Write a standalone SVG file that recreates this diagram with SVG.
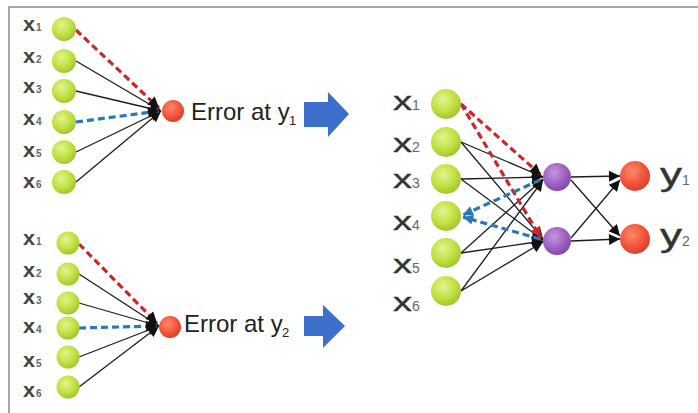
<svg xmlns="http://www.w3.org/2000/svg" width="698" height="413" viewBox="0 0 698 413">
  <defs>
    <radialGradient id="gGreen" cx="0.4" cy="0.35" r="0.7">
      <stop offset="0" stop-color="#e4f48c"/>
      <stop offset="0.6" stop-color="#bde040"/>
      <stop offset="1" stop-color="#9cc22c"/>
    </radialGradient>
    <radialGradient id="gRed" cx="0.4" cy="0.35" r="0.7">
      <stop offset="0" stop-color="#ff8a6c"/>
      <stop offset="0.6" stop-color="#f2543a"/>
      <stop offset="1" stop-color="#d63c26"/>
    </radialGradient>
    <radialGradient id="gPurple" cx="0.4" cy="0.35" r="0.7">
      <stop offset="0" stop-color="#c896de"/>
      <stop offset="0.6" stop-color="#9c60c2"/>
      <stop offset="1" stop-color="#7e46a8"/>
    </radialGradient>
    <marker id="ahBlack" viewBox="0 0 10 10" refX="10" refY="5" markerWidth="13" markerHeight="11" markerUnits="userSpaceOnUse" orient="auto">
      <path d="M0,0 L10,5 L0,10 z" fill="#111"/>
    </marker>
    <marker id="ahRed" viewBox="0 0 10 10" refX="10" refY="5" markerWidth="13" markerHeight="11" markerUnits="userSpaceOnUse" orient="auto">
      <path d="M0,0 L10,5 L0,10 z" fill="#c8282a"/>
    </marker>
    <marker id="ahBlue" viewBox="0 0 10 10" refX="10" refY="5" markerWidth="12" markerHeight="10" markerUnits="userSpaceOnUse" orient="auto">
      <path d="M0,0 L10,5 L0,10 z" fill="#2a78b8"/>
    </marker>
  </defs>
  <style>
    .in { fill: url(#gGreen); }
    .out { fill: url(#gRed); }
    .hid { fill: url(#gPurple); }
    .w { stroke: #1c1c1c; stroke-width: 1.3; fill: none; marker-end: url(#ahBlack); }
    .wr { stroke: #c8282a; stroke-width: 3.2; stroke-dasharray: 7 4; fill: none; }
    .wb { stroke: #2a78b8; stroke-width: 3.2; stroke-dasharray: 7 4; fill: none; }
    .lbl { font-family: "Liberation Sans", Arial, sans-serif; fill: #333; }
    .xs { font-size: 20px; font-weight: bold; fill: #444; }
    .ds { font-size: 10px; font-weight: bold; fill: #666; }
    .xl { font-size: 26px; stroke: #333; stroke-width: 0.4; }
    .dl { font-size: 14px; fill: #666; }
    .err { font-family: "Liberation Sans", Arial, sans-serif; font-size: 24px; fill: #222; }
    .sub { font-family: "Liberation Sans", Arial, sans-serif; font-size: 13px; fill: #222; }
    .block { fill: #3d6fcc; }
  </style>

  <!-- frame -->
  <path d="M9,413 L9,7 L698,7" fill="none" stroke="#8a8a8a" stroke-width="1.5"/>

  <!-- connectors -->
  <g id="connectors">
    <!-- upper single-output net -->
    <line class="w" x1="76" y1="61" x2="161" y2="111"/>
    <line class="w" x1="76" y1="91" x2="161" y2="111"/>
    <line class="w" x1="76" y1="152" x2="161" y2="111"/>
    <line class="w" x1="76" y1="182" x2="161" y2="111"/>
    <line class="wr" x1="76" y1="30" x2="159" y2="108" marker-end="url(#ahBlack)"/>
    <line class="wb" x1="76" y1="122" x2="159" y2="111" marker-end="url(#ahBlack)"/>

    <!-- lower single-output net -->
    <line class="w" x1="79" y1="274" x2="159" y2="326"/>
    <line class="w" x1="79" y1="303" x2="159" y2="326"/>
    <line class="w" x1="79" y1="357" x2="159" y2="326"/>
    <line class="w" x1="79" y1="387" x2="159" y2="326"/>
    <line class="wr" x1="79" y1="244" x2="157" y2="323" marker-end="url(#ahBlack)"/>
    <line class="wb" x1="79" y1="328" x2="157" y2="326" marker-end="url(#ahBlack)"/>

    <!-- hidden-layer net: inputs to hidden -->
    <line class="w" x1="461" y1="142" x2="543" y2="177"/>
    <line class="w" x1="461" y1="179" x2="543" y2="177"/>
    <line class="w" x1="461" y1="253" x2="543" y2="179"/>
    <line class="w" x1="461" y1="291" x2="543" y2="180"/>
    <line class="w" x1="461" y1="142" x2="543" y2="239"/>
    <line class="w" x1="461" y1="179" x2="543" y2="240"/>
    <line class="w" x1="461" y1="253" x2="543" y2="241"/>
    <line class="w" x1="461" y1="291" x2="543" y2="242"/>
    <line class="wr" x1="461" y1="104" x2="541" y2="175" marker-end="url(#ahBlack)"/>
    <line class="wr" x1="461" y1="104" x2="541" y2="238" marker-end="url(#ahRed)"/>
    <line class="wb" x1="540" y1="180" x2="463" y2="215" marker-end="url(#ahBlue)"/>
    <line class="wb" x1="540" y1="239" x2="463" y2="217" marker-end="url(#ahBlue)"/>

    <!-- hidden to outputs -->
    <line class="w" x1="571" y1="177" x2="620" y2="176"/>
    <line class="w" x1="571" y1="180" x2="620" y2="236"/>
    <line class="w" x1="571" y1="238" x2="620" y2="180"/>
    <line class="w" x1="571" y1="241" x2="620" y2="239"/>
  </g>

  <!-- upper single-output net nodes -->
  <g id="top-inputs">
    <circle class="in" cx="64" cy="29" r="12"/>
    <circle class="in" cx="64" cy="61" r="12"/>
    <circle class="in" cx="64" cy="91" r="12"/>
    <circle class="in" cx="64" cy="122" r="12"/>
    <circle class="in" cx="64" cy="152" r="12"/>
    <circle class="in" cx="64" cy="182" r="12"/>
  </g>
  <g id="top-labels" class="lbl">
    <text class="xs" x="23" y="31" textLength="12" lengthAdjust="spacingAndGlyphs">x</text><text class="ds" x="36" y="31">1</text>
    <text class="xs" x="23" y="63" textLength="12" lengthAdjust="spacingAndGlyphs">x</text><text class="ds" x="36" y="63">2</text>
    <text class="xs" x="23" y="93" textLength="12" lengthAdjust="spacingAndGlyphs">x</text><text class="ds" x="36" y="93">3</text>
    <text class="xs" x="23" y="125" textLength="12" lengthAdjust="spacingAndGlyphs">x</text><text class="ds" x="36" y="125">4</text>
    <text class="xs" x="23" y="157" textLength="12" lengthAdjust="spacingAndGlyphs">x</text><text class="ds" x="36" y="157">5</text>
    <text class="xs" x="23" y="188" textLength="12" lengthAdjust="spacingAndGlyphs">x</text><text class="ds" x="36" y="188">6</text>
  </g>
  <g id="top-error">
    <circle class="out" cx="173" cy="111" r="11"/>
    <text class="err" x="191" y="120">Error at y</text><text class="sub" x="289" y="125">1</text>
  </g>
  <g id="top-arrow">
    <path class="block" d="M304,102 L328,102 L328,92 L349,114 L328,137 L328,127 L304,127 z"/>
  </g>

  <!-- lower single-output net nodes -->
  <g id="bottom-inputs">
    <circle class="in" cx="68" cy="243" r="11.5"/>
    <circle class="in" cx="68" cy="274" r="11.5"/>
    <circle class="in" cx="68" cy="303" r="11.5"/>
    <circle class="in" cx="68" cy="328" r="11.5"/>
    <circle class="in" cx="68" cy="357" r="11.5"/>
    <circle class="in" cx="68" cy="387" r="11.5"/>
  </g>
  <g id="bottom-labels" class="lbl">
    <text class="xs" x="23" y="245" textLength="12" lengthAdjust="spacingAndGlyphs">x</text><text class="ds" x="36" y="245">1</text>
    <text class="xs" x="23" y="277" textLength="12" lengthAdjust="spacingAndGlyphs">x</text><text class="ds" x="36" y="277">2</text>
    <text class="xs" x="23" y="304" textLength="12" lengthAdjust="spacingAndGlyphs">x</text><text class="ds" x="36" y="304">3</text>
    <text class="xs" x="23" y="333" textLength="12" lengthAdjust="spacingAndGlyphs">x</text><text class="ds" x="36" y="333">4</text>
    <text class="xs" x="23" y="367" textLength="12" lengthAdjust="spacingAndGlyphs">x</text><text class="ds" x="36" y="367">5</text>
    <text class="xs" x="23" y="397" textLength="12" lengthAdjust="spacingAndGlyphs">x</text><text class="ds" x="36" y="397">6</text>
  </g>
  <g id="bottom-error">
    <circle class="out" cx="170" cy="327" r="11"/>
    <text class="err" x="184" y="332">Error at y</text><text class="sub" x="282" y="337">2</text>
  </g>
  <g id="bottom-arrow">
    <path class="block" d="M304,316 L323,316 L323,305 L345,326 L323,348 L323,336 L304,336 z"/>
  </g>

  <!-- hidden-layer net nodes -->
  <g id="net-inputs">
    <circle class="in" cx="446" cy="104" r="15"/>
    <circle class="in" cx="446" cy="142" r="15"/>
    <circle class="in" cx="446" cy="179" r="15"/>
    <circle class="in" cx="446" cy="216" r="15"/>
    <circle class="in" cx="446" cy="253" r="15"/>
    <circle class="in" cx="446" cy="291" r="15"/>
  </g>
  <g id="net-labels" class="lbl">
    <text class="xl" x="393" y="110" textLength="19" lengthAdjust="spacingAndGlyphs">x</text><text class="dl" x="412" y="110">1</text>
    <text class="xl" x="393" y="152" textLength="19" lengthAdjust="spacingAndGlyphs">x</text><text class="dl" x="412" y="152">2</text>
    <text class="xl" x="393" y="188" textLength="19" lengthAdjust="spacingAndGlyphs">x</text><text class="dl" x="412" y="188">3</text>
    <text class="xl" x="393" y="230" textLength="19" lengthAdjust="spacingAndGlyphs">x</text><text class="dl" x="412" y="230">4</text>
    <text class="xl" x="393" y="273" textLength="19" lengthAdjust="spacingAndGlyphs">x</text><text class="dl" x="412" y="273">5</text>
    <text class="xl" x="393" y="311" textLength="19" lengthAdjust="spacingAndGlyphs">x</text><text class="dl" x="412" y="311">6</text>
  </g>
  <g id="net-hidden">
    <circle class="hid" cx="557" cy="177" r="14"/>
    <circle class="hid" cx="557" cy="241" r="14"/>
  </g>
  <g id="net-outputs">
    <circle class="out" cx="635" cy="176" r="15"/>
    <circle class="out" cx="635" cy="239" r="15"/>
  </g>
  <g id="net-output-labels" class="lbl">
    <text class="xl" x="660" y="185" style="font-size:32px" textLength="22" lengthAdjust="spacingAndGlyphs">y</text><text class="dl" x="682" y="185">1</text>
    <text class="xl" x="660" y="246" style="font-size:32px" textLength="22" lengthAdjust="spacingAndGlyphs">y</text><text class="dl" x="682" y="246">2</text>
  </g>
</svg>
